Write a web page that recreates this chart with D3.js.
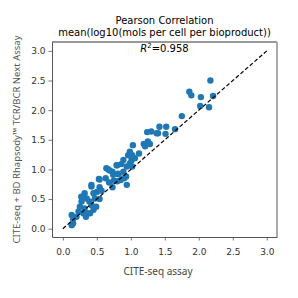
<!DOCTYPE html>
<html>
<head>
<meta charset="utf-8">
<script src="https://cdn.jsdelivr.net/npm/d3@7"></script>
<style>
  html, body { margin: 0; padding: 0; background: #fff; }
</style>
</head>
<body>
<div id="chart"></div>
<script>
// values
const citeSeq = [
  2.17, 1.86, 1.89, 2.03, 2.21, 2.02, 2.15, 1.75, 1.65, 1.52, 1.42, 1.51, 1.40, 1.24, 1.30, 1.38,
  1.25, 1.21, 1.28, 1.12, 1.03, 1.02, 1.01, 1.02, 0.985, 1.00, 0.89, 0.86, 0.94, 0.67, 0.73, 0.63,
  0.82, 0.89, 0.80, 0.90, 0.94, 0.54, 0.73, 0.64, 0.69, 0.79, 0.74, 0.53, 0.68, 0.75, 0.42, 0.45,
  0.50, 0.57, 0.32, 0.30, 0.35, 0.275, 0.39, 0.47, 0.54, 0.42, 0.25, 0.32, 0.45, 0.40, 0.30, 0.34,
  0.23, 0.20, 0.15, 0.13, 0.49, 0.13, 0.15, 0.35, 0.42, 0.54, 0.81, 0.85, 0.93, 0.985, 1.06, 0.96,
  1.19, 0.80, 0.27
];
const rhapsody = [
  2.50, 2.31, 2.25, 2.22, 2.24, 2.07, 2.05, 1.90, 1.68, 1.72, 1.72, 1.60, 1.61, 1.63, 1.64, 1.61,
  1.47, 1.39, 1.43, 1.27, 1.41, 1.24, 1.15, 1.05, 1.30, 1.23, 1.16, 1.09, 1.05, 1.00, 0.96, 0.85,
  0.92, 0.96, 0.80, 0.85, 0.74, 0.70, 0.70, 1.02, 0.98, 1.07, 0.91, 0.84, 0.78, 0.81, 0.74, 0.60,
  0.62, 0.64, 0.60, 0.54, 0.51, 0.46, 0.46, 0.51, 0.50, 0.40, 0.37, 0.34, 0.32, 0.26, 0.26, 0.20,
  0.29, 0.20, 0.09, 0.06, 0.37, 0.23, 0.17, 0.26, 0.71, 0.83, 0.93, 0.82, 0.88, 1.10, 1.19, 1.24,
  1.43, 1.07, 0.54
];
const tickValues = [0.0, 0.5, 1.0, 1.5, 2.0, 2.5, 3.0];
const identityLine = [0, 3];
const titleLines = ["Pearson Correlation", "mean(log10(mols per cell per bioproduct))"];
const rSquared = "0.958";

const points = citeSeq.map((d, i) => ({x: d, y: rhapsody[i]}));

const W = 298, H = 298;
const margin = {top: 42, right: 21, bottom: 61, left: 52},
  width = W - margin.left - margin.right,
  height = H - margin.top - margin.bottom;

const svg = d3.select("#chart")
  .append("svg")
    .attr("width", W)
    .attr("height", H);

const g = svg.append("g")
  .attr("transform", `translate(${margin.left},${margin.top})`);

const x = d3.scaleLinear().domain([-0.16, 3.15]).range([0, width]);
const y = d3.scaleLinear().domain([-0.14, 3.15]).range([height, 0]);

// axes
const xAxis = g.append("g")
  .attr("transform", `translate(0,${height})`)
  .call(d3.axisBottom(x).tickValues(tickValues).tickFormat(d3.format(".1f")).tickSize(3.5).tickSizeOuter(0));
const yAxis = g.append("g")
  .call(d3.axisLeft(y).tickValues(tickValues).tickFormat(d3.format(".1f")).tickSize(3.5).tickSizeOuter(0));

[xAxis, yAxis].forEach(a => {
  a.select(".domain").attr("stroke", "#555").attr("stroke-width", 1);
  a.selectAll(".tick line").attr("stroke", "#555").attr("stroke-width", 0.8);
  a.selectAll(".tick text")
    .style("font-family", "DejaVu Sans, sans-serif")
    .style("font-size", "9px")
    .attr("fill", "#333");
});
xAxis.selectAll(".tick text").attr("dy", "1.25em");

// top and right spines
g.append("line")
  .attr("x1", 0).attr("x2", width).attr("y1", 0).attr("y2", 0)
  .attr("stroke", "#333").attr("stroke-width", 1);
g.append("line")
  .attr("x1", width).attr("x2", width).attr("y1", 0).attr("y2", height)
  .attr("stroke", "#aaa").attr("stroke-width", 2);

// scatter
g.append("g")
  .selectAll("circle")
  .data(points)
  .join("circle")
    .attr("cx", d => x(d.x))
    .attr("cy", d => y(d.y))
    .attr("r", 3.2)
    .attr("fill", "#1f77b4");

// identity line
g.append("line")
  .attr("x1", x(identityLine[0])).attr("y1", y(identityLine[0]))
  .attr("x2", x(identityLine[1])).attr("y2", y(identityLine[1]))
  .attr("stroke", "#000")
  .attr("stroke-width", 1.2)
  .attr("stroke-dasharray", "4,2.2");

// R^2 annotation
const rText = g.append("text")
  .attr("x", width / 2)
  .attr("y", 10)
  .attr("text-anchor", "middle")
  .style("font-family", "DejaVu Sans, sans-serif")
  .style("font-size", "10px")
  .attr("fill", "#000");
rText.append("tspan").style("font-style", "italic").text("R");
rText.append("tspan").attr("dy", -4).style("font-size", "7px").text("2");
rText.append("tspan").attr("dy", 4).text("=" + rSquared);

// title
svg.selectAll(".title")
  .data(titleLines)
  .join("text")
    .attr("class", "title")
    .attr("x", margin.left + width / 2)
    .attr("y", (d, i) => 24 + i * 11.5)
    .attr("text-anchor", "middle")
    .style("font-family", "DejaVu Sans, sans-serif")
    .style("font-size", "10px")
    .attr("fill", "#000")
    .text(d => d);

// axis labels
svg.append("text")
  .attr("x", 158)
  .attr("y", 275)
  .attr("text-anchor", "middle")
  .style("font-family", "Noto Sans, sans-serif")
  .style("font-size", "10px")
  .attr("fill", "#444")
  .text("CITE-seq assay");

svg.append("text")
  .attr("transform", `translate(20,${margin.top + height / 2}) rotate(-90)`)
  .attr("text-anchor", "middle")
  .style("font-family", "Noto Sans, sans-serif")
  .style("font-size", "9.5px")
  .attr("fill", "#555")
  .text("CITE-seq + BD Rhapsody™ TCR/BCR Next Assay");
</script>
</body>
</html>
